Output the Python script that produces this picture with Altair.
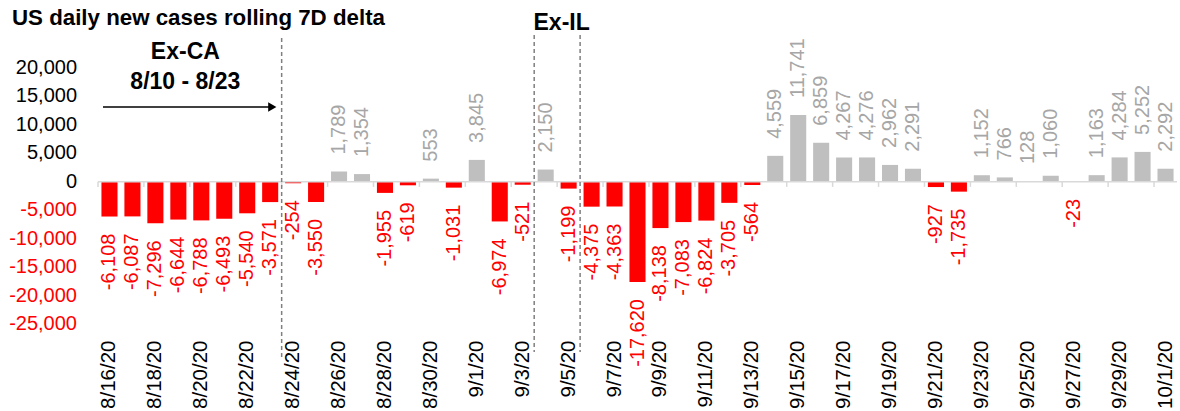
import altair as alt
import numpy as np
import pandas as pd

# Daily change in the 7-day rolling count of new US cases
dates = [d.strftime("%-m/%-d/%y") for d in pd.date_range("2020-08-16", "2020-10-01")]
values = [
    -6108, -6087, -7296, -6644, -6788, -6493, -5540, -3571, -254, -3550,
    1789, 1354, -1955, -619, 553, -1031,
    3845, -6974, -521, 2150, -1199, -4375, -4363, -17620, -8138, -7083,
    -6824, -3705, -564, 4559, 11741, 6859, 4267, 4276, 2962, 2291,
    -927, -1735, 1152, 766, 128, 1060, -23, 1163, 4284, 5252, 2292,
]
tick_dates = dates[::2]
y_ticks = list(range(-25000, 20001, 5000))

# Dashed separators (drawn at the left edge of the given day)
sep_dates = ["8/24/20", "9/4/20", "9/6/20"]
sep_top = [25280, 25800, 25800]
sep_bottom = [-30800, -29900, -29900]

W, H = 1079, 256
STEP = W / len(dates)
FONT = "Liberation Sans"
RED = "#ff0000"
GREY_BAR = "#bfbfbf"
GREY_TXT = "#a6a6a6"

df = pd.DataFrame({"date": dates, "value": values})
df["label"] = df["value"].map(lambda v: f"{v:,}")
df["sign"] = np.where(df["value"] < 0, "neg", "pos")

ydf = pd.DataFrame({"v": y_ticks})
ydf["label"] = ydf["v"].map(lambda v: f"{v:,}")
ydf["sign"] = np.where(ydf["v"] < 0, "neg", "pos")

x_scale = alt.Scale(domain=dates, paddingInner=0.3, paddingOuter=0.15)
y_scale = alt.Scale(domain=[-25000, 20000], nice=False)


def yq(field):
    return alt.Y(field, scale=y_scale, title=None, axis=None)


x_enc = alt.X(
    "date:O", scale=x_scale, sort=None, title=None,
    axis=alt.Axis(
        values=tick_dates, labelAngle=270, labelAlign="right", labelBaseline="middle",
        labelPadding=16, labelFont=FONT, labelFontSize=20.5, labelColor="#000000",
        labelOverlap=False, domain=False, ticks=False, grid=False,
    ),
)

base = alt.Chart(df)

bars = base.mark_bar().encode(
    x=x_enc,
    y=yq("value:Q"),
    color=alt.Color("sign:N", scale=alt.Scale(domain=["neg", "pos"], range=[RED, GREY_BAR]), legend=None),
)

# value-axis labels, red for negatives
y_labels = alt.Chart(ydf).mark_text(
    align="right", baseline="middle", font=FONT, fontSize=20
).encode(
    x=alt.value(-21),
    y=yq("v:Q"),
    text="label:N",
    color=alt.Color("sign:N", scale=alt.Scale(domain=["neg", "pos"], range=[RED, "#000000"]), legend=None),
)

pos_labels = base.transform_filter("datum.value >= 0").mark_text(
    angle=270, align="left", baseline="middle", dx=17, font=FONT, fontSize=20, color=GREY_TXT
).encode(x="date:O", y=yq("value:Q"), text="label:N")

neg_labels = base.transform_filter("datum.value < 0").mark_text(
    angle=270, align="right", baseline="middle", dx=-17, font=FONT, fontSize=20, color=RED
).encode(x="date:O", y=yq("value:Q"), text="label:N")

zero_line = alt.Chart(pd.DataFrame({"v": [0]})).mark_rule(color="#d9d9d9", strokeWidth=1.5).encode(
    y=yq("v:Q")
)

ticks = alt.Chart(pd.DataFrame({"date": tick_dates, "y0": 0, "y1": -900})).mark_rule(
    color="#d9d9d9", strokeWidth=1.5, xOffset=-STEP / 2
).encode(x="date:O", y=yq("y0:Q"), y2="y1:Q")

separators = alt.Chart(pd.DataFrame({"date": sep_dates, "top": sep_top, "bottom": sep_bottom})).mark_rule(
    color="#7f7f7f", strokeWidth=1.5, strokeDash=[4, 3], xOffset=-STEP / 2
).encode(x="date:O", y=yq("top:Q"), y2="bottom:Q")

arrow_df = pd.DataFrame({"start": ["8/16/20"], "end": ["8/23/20"], "y": [13150]})
arrow_line = alt.Chart(arrow_df).mark_rule(
    color="#000000", strokeWidth=1.5, xOffset=-6.5, x2Offset=3
).encode(x="start:O", x2="end:O", y=yq("y:Q"))
arrow_head = alt.Chart(arrow_df).mark_point(
    shape="triangle-right", filled=True, size=90, color="#000000", opacity=1, xOffset=2.1
).encode(x="end:O", y=yq("y:Q"))

ca_notes = alt.Chart(pd.DataFrame({
    "date": ["8/19/20", "8/19/20"], "y": [22820, 17540], "text": ["Ex-CA", "8/10 - 8/23"]
})).mark_text(
    font=FONT, fontSize=23, fontWeight="bold", color="#000000", dx=7, baseline="middle"
).encode(x="date:O", y=yq("y:Q"), text="text:N")

il_note = alt.Chart(pd.DataFrame({"date": ["9/5/20"], "y": [27910], "text": ["Ex-IL"]})).mark_text(
    font=FONT, fontSize=23, fontWeight="bold", color="#000000", dx=-7, baseline="middle"
).encode(x="date:O", y=yq("y:Q"), text="text:N")

heading = alt.Chart(pd.DataFrame({
    "date": ["8/16/20"], "y": [28790], "text": ["US daily new cases rolling 7D delta"]
})).mark_text(
    font=FONT, fontSize=22.3, fontWeight="bold", color="#000000", align="left", baseline="middle", dx=-97.5
).encode(x="date:O", y=yq("y:Q"), text="text:N")

chart = alt.layer(
    bars, y_labels, zero_line, ticks, separators, pos_labels, neg_labels,
    arrow_line, arrow_head, ca_notes, il_note, heading,
).resolve_scale(
    color="independent"
).properties(
    width=W, height=H,
    autosize=alt.AutoSizeParams(type="none"),
    padding={"left": 98, "top": 68, "right": 3, "bottom": 87},
    background="#ffffff",
).configure_view(
    stroke=None
)

chart.save("out.html", embed_options={"renderer": "svg", "actions": False})
